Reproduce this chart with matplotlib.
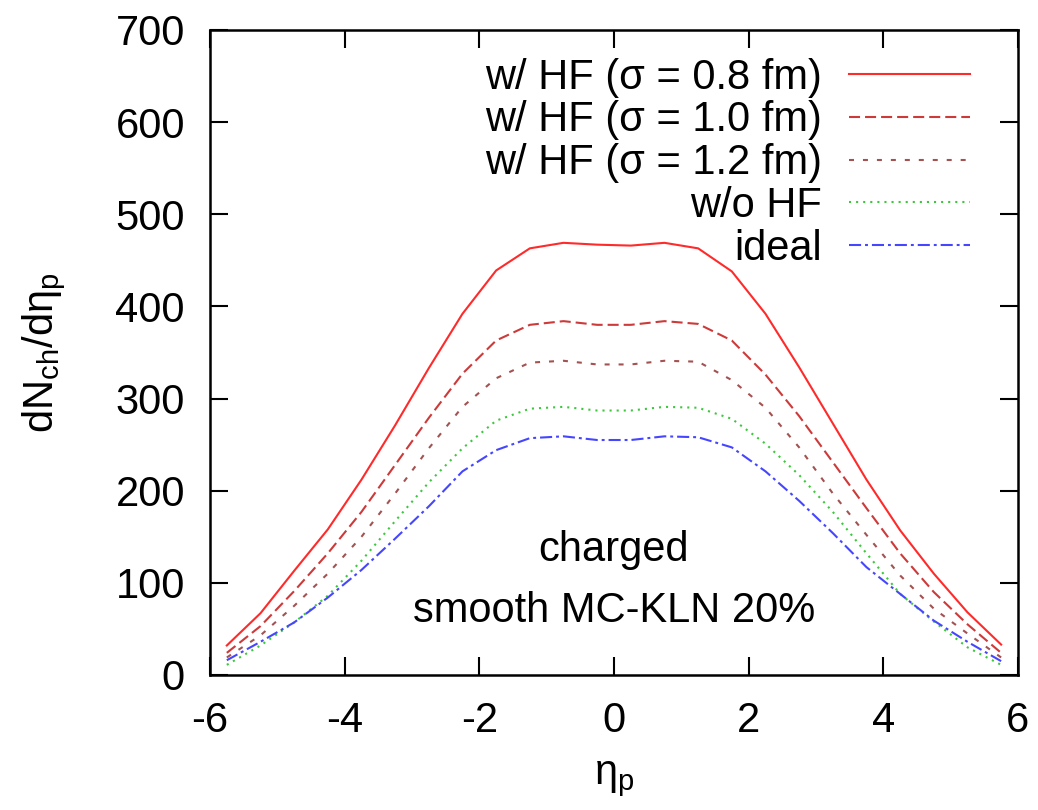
import matplotlib
matplotlib.use("Agg")
import matplotlib.pyplot as plt

# pseudorapidity grid
eta = [-5.75, -5.25, -4.75, -4.25, -3.75, -3.25, -2.75, -2.25, -1.75, -1.25, -0.75, -0.25,
       0.25, 0.75, 1.25, 1.75, 2.25, 2.75, 3.25, 3.75, 4.25, 4.75, 5.25, 5.75]

hf_08 = [32, 67, 113, 158, 212, 271, 333, 392, 439, 463, 469, 467,
         466, 469, 463, 438, 392, 334, 273, 212, 157, 110, 68, 33]
hf_10 = [24, 53, 91, 132, 177, 228, 279, 327, 363, 380, 384, 380,
         380, 384, 381, 363, 326, 281, 231, 181, 132, 90, 55, 24]
hf_12 = [19, 43, 75, 110, 150, 197, 246, 291, 322, 339, 341, 337,
         337, 341, 340, 320, 290, 247, 197, 152, 108, 72, 45, 19]
no_hf = [11, 32, 57, 86, 124, 167, 209, 246, 276, 289, 291, 287,
         287, 291, 290, 278, 251, 217, 177, 132, 88, 58, 30, 11]
ideal = [16, 36, 57, 84, 114, 148, 183, 221, 244, 257, 259, 255,
         255, 259, 258, 247, 221, 189, 154, 117, 88, 59, 36, 15]

labels = ['w/ HF (σ = 0.8 fm)', 'w/ HF (σ = 1.0 fm)', 'w/ HF (σ = 1.2 fm)', 'w/o HF', 'ideal']

plt.rcParams['font.family'] = ['Liberation Sans', 'DejaVu Sans']
plt.rcParams['mathtext.fontset'] = 'custom'
plt.rcParams['mathtext.rm'] = 'Liberation Sans'
plt.rcParams['mathtext.it'] = 'Liberation Sans'
plt.rcParams['axes.unicode_minus'] = False

fs = 30

fig = plt.figure(figsize=(10.38, 8.10), dpi=100)
ax = fig.add_axes([0.2023, 0.1667, 0.7784, 0.7963])

lw = 1.5
ax.plot(eta, hf_08, color='#ff2a2a', lw=lw, ls='-', label=labels[0])
ax.plot(eta, hf_10, color='#cc3a3a', lw=lw, ls=(0, (5.3, 2.4)), label=labels[1])
ax.plot(eta, hf_12, color='#a35252', lw=lw, ls=(0, (2.4, 4.3)), label=labels[2])
ax.plot(eta, no_hf, color='#3cc83c', lw=lw, ls=(0, (1.0, 2.4)), label=labels[3])
ax.plot(eta, ideal, color='#4646ff', lw=lw, ls=(0, (5.8, 1.9, 1.4, 1.9)), label=labels[4])

ax.set_xlim(-6, 6)
ax.set_ylim(0, 700)
ax.set_xticks([-6, -4, -2, 0, 2, 4, 6])
ax.set_yticks(range(0, 701, 100))

ax.tick_params(direction='in', length=13, width=1.5, labelsize=fs,
               top=True, right=True)
ax.tick_params(axis='x', pad=19)
ax.tick_params(axis='y', pad=18)
for s in ax.spines.values():
    s.set_linewidth(1.8)

ax.set_xlabel(r'$\mathrm{\eta_p}$', fontsize=fs, labelpad=13)
ax.set_ylabel(r'$\mathrm{dN_{ch}/d\eta_p}$', fontsize=fs, labelpad=34)

ax.text(0, 136, 'charged', fontsize=fs, ha='center', va='center')
ax.text(0, 69, 'smooth MC-KLN 20%', fontsize=fs, ha='center', va='center')

leg = ax.legend(loc='upper right', bbox_to_anchor=(0.9406, 0.957), frameon=False,
                markerfirst=False, fontsize=fs, handlelength=2.9,
                handletextpad=0.65, labelspacing=0.065, borderpad=0, borderaxespad=0)

fig.savefig('out.png', dpi=100)
